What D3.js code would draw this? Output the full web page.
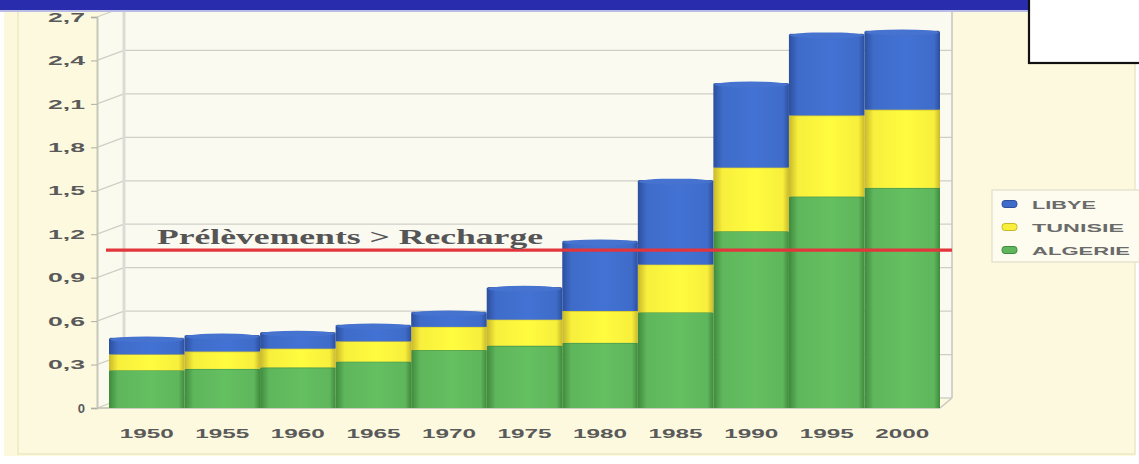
<!DOCTYPE html>
<html>
<head>
<meta charset="utf-8">
<script src="https://cdn.jsdelivr.net/npm/d3@7"></script>
<style>
  html, body { margin: 0; padding: 0; background: #ffffff; }
  svg { display: block; }
</style>
</head>
<body>
<svg id="chart" width="1139" height="464"></svg>
<script>
// Prélèvements d'eau souterraine (Système Aquifère du Sahara Septentrional)
const years = ["1950", "1955", "1960", "1965", "1970", "1975", "1980", "1985", "1990", "1995", "2000"];
const algerie = [0.26, 0.27, 0.28, 0.32, 0.40, 0.43, 0.45, 0.66, 1.22, 1.46, 1.52];
const tunisie = [0.11, 0.12, 0.13, 0.14, 0.16, 0.18, 0.22, 0.33, 0.44, 0.56, 0.54];
const libye   = [0.11, 0.11, 0.11, 0.11, 0.10, 0.22, 0.48, 0.58, 0.58, 0.56, 0.54];
const seriesNames = ["ALGERIE", "TUNISIE", "LIBYE"];
const legendOrder = ["LIBYE", "TUNISIE", "ALGERIE"];
const yTicks = [0, 0.3, 0.6, 0.9, 1.2, 1.5, 1.8, 2.1, 2.4, 2.7];
const recharge = 1.09;
const rechargeLabel = "Prélèvements > Recharge";

const colors = { ALGERIE: "#5fb65c", TUNISIE: "#f7ef3c", LIBYE: "#3f6cc9" };
const darker = { ALGERIE: "#3f8a3c", TUNISIE: "#c9b82a", LIBYE: "#2c4f9e" };

const svg = d3.select("#chart");
const W = 1139, H = 464;

// page background and framing
svg.append("rect").attr("width", W).attr("height", H).attr("fill", "#ffffff");
svg.append("rect").attr("x", 4).attr("y", 8).attr("width", 1131).attr("height", 448).attr("fill", "#fbf8dc");
svg.append("rect").attr("x", 18).attr("y", 8).attr("width", 1117).attr("height", 446).attr("fill", "#fcf9df")
  .attr("stroke", "#ece7c4").attr("stroke-width", 1.5);

const x = d3.scaleBand().domain(years).range([109, 940]).padding(0);
const y = d3.scaleLinear().domain([0, 2.7]).range([408, 17]);
const depthX = 27, depthY = -10;   // 3D wall offset
const axisX = 97;

// back wall
svg.append("rect").attr("x", axisX + depthX).attr("y", y(2.7) + depthY - 4)
  .attr("width", 952 - (axisX + depthX)).attr("height", y(0) - y(2.7) + 4)
  .attr("fill", "#fbfaf1");
// side wall
svg.append("path")
  .attr("d", `M${axisX},${y(2.7)} L${axisX + depthX},${y(2.7) + depthY} L${axisX + depthX},${y(0) + depthY} L${axisX},${y(0)} Z`)
  .attr("fill", "#fbfaef");

// grid lines on back wall and side wall
const grid = svg.append("g").attr("stroke", "#cfcfc8").attr("stroke-width", 1.3).attr("fill", "none");
yTicks.forEach(t => {
  grid.append("line").attr("x1", axisX + depthX).attr("x2", 952)
    .attr("y1", y(t) + depthY).attr("y2", y(t) + depthY);
  grid.append("line").attr("x1", axisX).attr("x2", axisX + depthX)
    .attr("y1", y(t)).attr("y2", y(t) + depthY);
});
grid.append("line").attr("x1", axisX + depthX).attr("x2", axisX + depthX)
  .attr("y1", y(2.7) + depthY - 4).attr("y2", y(0) + depthY).attr("stroke-width", 3).attr("stroke", "#dcdcd4");
grid.append("line").attr("x1", 952).attr("x2", 952)
  .attr("y1", y(2.7) + depthY - 4).attr("y2", y(0) + depthY).attr("stroke", "#c9c3c0").attr("stroke-width", 1.5);
// floor edges
grid.append("line").attr("x1", 940).attr("x2", 952).attr("y1", y(0)).attr("y2", y(0) + depthY).attr("stroke", "#c9c3c0");
grid.append("line").attr("x1", axisX).attr("x2", 940).attr("y1", y(0)).attr("y2", y(0)).attr("stroke", "#bdbdb6");

// y axis
const yAxis = d3.axisLeft(y).tickValues(yTicks).tickSize(6).tickPadding(6)
  .tickFormat(d => d3.format(".1f")(d).replace(".", ",").replace(/^0,0$/, "0"));
const gy = svg.append("g").attr("transform", `translate(${axisX},0)`).call(yAxis);
gy.select(".domain").attr("stroke", "#c8c6b8").attr("stroke-width", 2);
gy.selectAll(".tick line").attr("stroke", "#b0aea4");
gy.selectAll(".tick text")
  .attr("font-family", "Liberation Sans, Arial, sans-serif")
  .attr("font-size", 13).attr("font-weight", "bold").attr("fill", "#5a5a5a")
  .each(function(d) {
    const s = d3.select(this);
    if (d !== 0) s.attr("textLength", 37).attr("lengthAdjust", "spacingAndGlyphs");
  });

// stacked bars
const rows = years.map((yr, i) => ({ year: yr, ALGERIE: algerie[i], TUNISIE: tunisie[i], LIBYE: libye[i] }));
const stacked = d3.stack().keys(seriesNames)(rows);

const defs = svg.append("defs");
seriesNames.forEach(k => {
  const g = defs.append("linearGradient").attr("id", "cyl-" + k).attr("x1", 0).attr("x2", 1).attr("y1", 0).attr("y2", 0);
  g.append("stop").attr("offset", "0%").attr("stop-color", darker[k]);
  g.append("stop").attr("offset", "12%").attr("stop-color", colors[k]);
  g.append("stop").attr("offset", "55%").attr("stop-color", d3.color(colors[k]).brighter(0.15));
  g.append("stop").attr("offset", "92%").attr("stop-color", colors[k]);
  g.append("stop").attr("offset", "100%").attr("stop-color", darker[k]);
});

const bars = svg.append("g");
stacked.forEach(layer => {
  bars.append("g").selectAll("rect").data(layer).join("rect")
    .attr("x", d => x(d.data.year))
    .attr("y", d => y(d[1]))
    .attr("width", x.bandwidth())
    .attr("height", d => y(d[0]) - y(d[1]))
    .attr("fill", `url(#cyl-${layer.key})`);
  // seam between stacked segments
  bars.append("g").selectAll("line").data(layer).join("line")
    .attr("x1", d => x(d.data.year) + 1).attr("x2", d => x(d.data.year) + x.bandwidth() - 1)
    .attr("y1", d => y(d[1])).attr("y2", d => y(d[1]))
    .attr("stroke", darker[layer.key]).attr("stroke-width", 1.4).attr("opacity", 0.8);
});
// rounded cylinder caps on the upper segment
const capLayer = stacked[stacked.length - 1];
bars.append("g").selectAll("ellipse").data(capLayer).join("ellipse")
  .attr("cx", d => x(d.data.year) + x.bandwidth() / 2)
  .attr("cy", d => y(d[1]) + 1)
  .attr("rx", x.bandwidth() / 2 - 1).attr("ry", 3)
  .attr("fill", "#4673cf");

// recharge threshold line
svg.append("line")
  .attr("x1", 106).attr("x2", 952)
  .attr("y1", y(recharge)).attr("y2", y(recharge))
  .attr("stroke", "#e2363c").attr("stroke-width", 3.2);
svg.append("text")
  .attr("x", 157).attr("y", y(recharge) - 6)
  .attr("font-family", "Liberation Serif, Times New Roman, serif")
  .attr("font-size", 22).attr("font-weight", "bold")
  .attr("fill", "#555555")
  .attr("textLength", 386).attr("lengthAdjust", "spacingAndGlyphs")
  .text(rechargeLabel);

// x axis labels
const xAxis = d3.axisBottom(x).tickSize(0).tickPadding(0);
const gx = svg.append("g").attr("transform", `translate(0,${y(0) + 21})`).call(xAxis);
gx.select(".domain").remove();
gx.selectAll(".tick text")
  .attr("font-family", "Liberation Sans, Arial, sans-serif")
  .attr("font-size", 13).attr("font-weight", "bold").attr("fill", "#5a5a5a")
  .attr("textLength", 54).attr("lengthAdjust", "spacingAndGlyphs");

// legend
const legend = svg.append("g");
legend.append("rect").attr("x", 992).attr("y", 190).attr("width", 150).attr("height", 72)
  .attr("fill", "#fdfcef").attr("stroke", "#e6e3cf").attr("stroke-width", 1.5);
const legendY = d3.scalePoint().domain(legendOrder).range([204, 250]);
const legendWidths = { LIBYE: 64, TUNISIE: 92, ALGERIE: 98 };
legendOrder.forEach(k => {
  legend.append("rect").attr("x", 1002).attr("y", legendY(k) - 3.5).attr("width", 15).attr("height", 7)
    .attr("rx", 3).attr("fill", colors[k]).attr("stroke", darker[k]).attr("stroke-width", 1);
  legend.append("text").attr("x", 1032).attr("y", legendY(k) + 4.5)
    .attr("font-family", "Liberation Sans, Arial, sans-serif")
    .attr("font-size", 11).attr("font-weight", "bold").attr("fill", "#6a6a6a")
    .attr("textLength", legendWidths[k]).attr("lengthAdjust", "spacingAndGlyphs")
    .text(k);
});

// header band and corner box
svg.append("rect").attr("x", 0).attr("y", 0).attr("width", 1030).attr("height", 10).attr("fill", "#2a2cae");
svg.append("rect").attr("x", 0).attr("y", 10).attr("width", 1030).attr("height", 2).attr("fill", "#b9bde6");
svg.append("rect").attr("x", 1029).attr("y", -2).attr("width", 112).attr("height", 65)
  .attr("fill", "#ffffff").attr("stroke", "#111111").attr("stroke-width", 2.2);
</script>
</body>
</html>
